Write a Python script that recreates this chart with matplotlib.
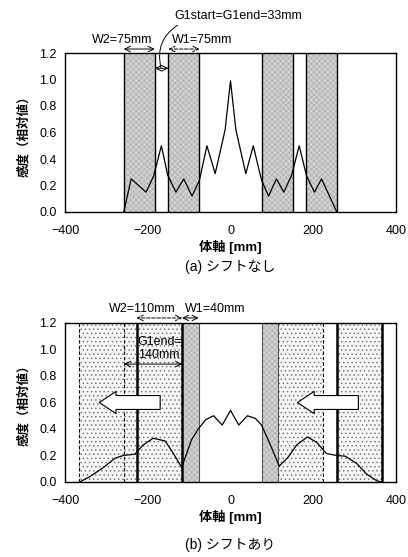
import matplotlib.pyplot as plt

plt.rcParams['font.family'] = ['Liberation Sans', 'Noto Sans CJK JP', 'DejaVu Sans']
plt.rcParams['hatch.linewidth'] = 0.5

# --- data ---
x_ticks = [-400, -200, 0, 200, 400]
y_ticks = [0.0, 0.2, 0.4, 0.6, 0.8, 1.0, 1.2]

# (a) no shift
top_x = [-258, -240, -204, -186, -167, -152, -132, -113, -93, -75, -57, -37, -13, 0,
         13, 37, 55, 75, 92, 111, 129, 148, 166, 184, 203, 220, 257]
top_y = [0.0, 0.25, 0.15, 0.27, 0.5, 0.28, 0.15, 0.25, 0.12, 0.24, 0.5, 0.29, 0.62, 0.99,
         0.62, 0.29, 0.5, 0.24, 0.12, 0.25, 0.15, 0.28, 0.5, 0.27, 0.15, 0.25, 0.0]
top_bands = [(-258, -183), (-150, -75), (75, 150), (183, 258)]

# (b) shifted
bot_x = [-365, -340, -307, -279, -259, -231, -211, -187, -158, -138, -118, -106, -94, -78,
         -60, -41, -20, 0, 20, 41, 60, 75, 95, 118, 140, 160, 186, 208, 232, 257, 277,
         305, 329, 353, 365]
bot_y = [0.0, 0.04, 0.11, 0.18, 0.20, 0.21, 0.28, 0.33, 0.31, 0.215, 0.11, 0.215, 0.32, 0.40,
         0.47, 0.50, 0.43, 0.54, 0.43, 0.50, 0.48, 0.43, 0.29, 0.12, 0.19, 0.28, 0.34, 0.30,
         0.215, 0.20, 0.195, 0.14, 0.06, 0.01, 0.0]
bot_dark = [(-117, -77), (76, 116)]
bot_dotted = [(-367, -117), (116, 224), (257, 367)]
bot_dashed = [-367, -257, 224]
bot_thick = [-227, -117, 257, 367]

fig = plt.figure(figsize=(4.08, 5.57), dpi=100)


def px_axes(left, top, right, bottom):
    return fig.add_axes([left / 408, 1 - bottom / 557, (right - left) / 408, (bottom - top) / 557])


def style(ax):
    ax.set_xlim(-400, 400)
    ax.set_ylim(0, 1.2)
    ax.set_xticks(x_ticks)
    ax.set_yticks(y_ticks)
    ax.set_yticklabels([f'{v:.1f}' for v in y_ticks])
    ax.tick_params(length=0, labelsize=9)
    ax.tick_params(axis='x', pad=9)
    ax.tick_params(axis='y', pad=6)
    for s in ax.spines.values():
        s.set_linewidth(1.0)


dark_fc = '#b9b9b9'
dark_hc = '#dedede'
dot_hc = '#6e6e6e'

# ---------- (a) ----------
ax1 = px_axes(65, 53, 396, 212)
style(ax1)
for a, b in top_bands:
    ax1.axvspan(a, b, facecolor=dark_fc, edgecolor=dark_hc, hatch='xxxxxx', linewidth=0)
    ax1.axvline(a, color='black', lw=1.0)
    ax1.axvline(b, color='black', lw=1.0)
ax1.plot(top_x, top_y, color='black', lw=0.9)

arr = dict(arrowstyle='<->', color='black', lw=0.7, shrinkA=0, shrinkB=0)
ax1.annotate('', xy=(-258, 1.23), xytext=(-183, 1.23), arrowprops=arr, annotation_clip=False)
ax1.annotate('', xy=(-150, 1.23), xytext=(-75, 1.23),
             arrowprops=dict(arr, linestyle='--'), annotation_clip=False)
ax1.annotate('', xy=(-183, 1.085), xytext=(-150, 1.085), arrowprops=arr)
ax1.text(-262, 1.30, 'W2=75mm', ha='center', va='center', fontsize=9)
ax1.text(-69, 1.30, 'W1=75mm', ha='center', va='center', fontsize=9)
ax1.text(18, 1.48, 'G1start=G1end=33mm', ha='center', va='center', fontsize=9)
ax1.annotate('', xy=(-168, 1.09), xytext=(-128, 1.41), annotation_clip=False,
             arrowprops=dict(arrowstyle='-', color='black', lw=0.7, shrinkA=0, shrinkB=0,
                             connectionstyle='arc3,rad=0.35'))

fig.text(24 / 408, 1 - 133 / 557, '感度（相対値）', rotation=90, ha='center', va='center',
         fontsize=9, fontweight='bold')
fig.text(230 / 408, 1 - 247 / 557, '体軸 [mm]', ha='center', va='center', fontsize=9.5,
         fontweight='bold')
fig.text(230 / 408, 1 - 267 / 557, '(a) シフトなし', ha='center', va='center', fontsize=10)

# ---------- (b) ----------
ax2 = px_axes(65, 323, 396, 482)
style(ax2)
for a, b in bot_dotted:
    ax2.axvspan(a, b, facecolor='#f6f6f6', edgecolor=dot_hc, hatch='....', linewidth=0)
for a, b in bot_dark:
    ax2.axvspan(a, b, facecolor=dark_fc, edgecolor=dark_hc, hatch='xxxxxx', linewidth=0)
    ax2.axvline(a, color='#555555', lw=0.8)
    ax2.axvline(b, color='#555555', lw=0.8)
for xv in bot_dashed:
    ax2.axvline(xv, color='black', lw=0.8, linestyle=(0, (3, 2)))
for xv in bot_thick:
    ax2.axvline(xv, color='black', lw=1.8)
ax2.plot(bot_x, bot_y, color='black', lw=0.9)

ax2.annotate('', xy=(-227, 1.238), xytext=(-117, 1.238),
             arrowprops=dict(arr, linestyle='--'), annotation_clip=False)
ax2.annotate('', xy=(-117, 1.238), xytext=(-77, 1.238), arrowprops=arr, annotation_clip=False)
ax2.annotate('', xy=(-257, 0.89), xytext=(-117, 0.89), arrowprops=arr)
ax2.text(-214, 1.306, 'W2=110mm', ha='center', va='center', fontsize=9)
ax2.text(-37, 1.306, 'W1=40mm', ha='center', va='center', fontsize=9)
ax2.text(-224, 1.06, 'G1end=', ha='left', va='center', fontsize=9)
ax2.text(-224, 0.96, '140mm', ha='left', va='center', fontsize=9)

big = dict(arrowstyle='simple,head_width=16,head_length=12,tail_width=10',
           fc='white', ec='black', lw=0.8, shrinkA=0, shrinkB=0, mutation_scale=1)
ax2.annotate('', xy=(-317, 0.6), xytext=(-170, 0.6), arrowprops=big)
ax2.annotate('', xy=(162, 0.6), xytext=(309, 0.6), arrowprops=big)

fig.text(24 / 408, 1 - 402 / 557, '感度（相対値）', rotation=90, ha='center', va='center',
         fontsize=9, fontweight='bold')
fig.text(230 / 408, 1 - 517 / 557, '体軸 [mm]', ha='center', va='center', fontsize=9.5,
         fontweight='bold')
fig.text(230 / 408, 1 - 545 / 557, '(b) シフトあり', ha='center', va='center', fontsize=10)

fig.savefig('out.png', dpi=100)
